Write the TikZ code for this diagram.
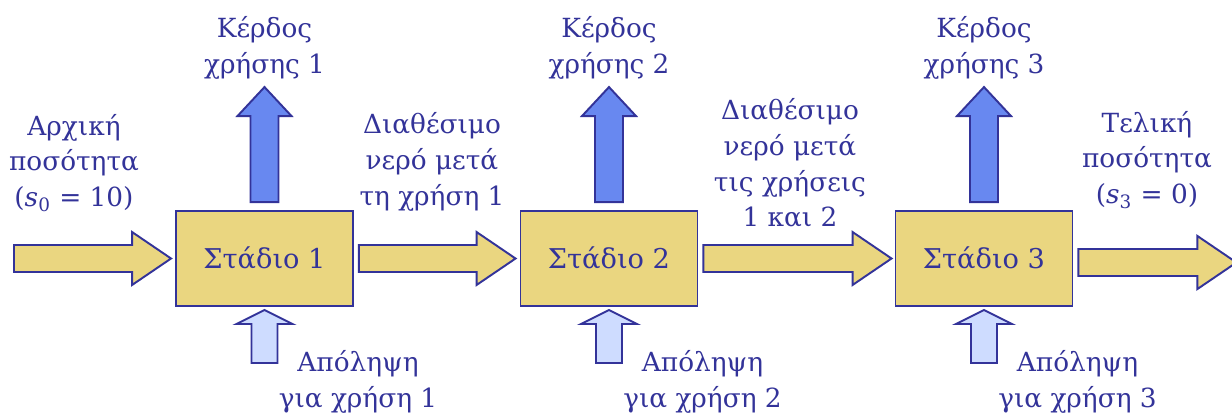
\documentclass[tikz,border=0pt]{standalone}
\usepackage{fontspec}
\setmainfont{DejaVu Serif}
\usetikzlibrary{positioning,calc}

\definecolor{inkblue}{RGB}{51,51,153}
\definecolor{stagefill}{RGB}{234,214,128}
\definecolor{gainfill}{RGB}{104,136,240}
\definecolor{drawfill}{RGB}{206,220,255}

\tikzset{
  stage/.style={draw=inkblue, line width=1.1pt, fill=stagefill, minimum width=3.54cm,
    minimum height=1.9cm, inner sep=0pt, text=inkblue, font=\fontsize{15.5}{20}\selectfont},
  label/.style={align=center, inner sep=0pt, text=inkblue, font=\fontsize{15}{20.4}\selectfont},
  flow/.style={draw=inkblue, line width=1.1pt, fill=stagefill, line join=miter},
  gain/.style={flow, fill=gainfill},
  intake/.style={flow, fill=drawfill}
}

% horizontal block arrow: start, tip
\newcommand{\hflow}[3][flow]{%
  \draw[#1] ($(#2)+(0,-13.5)$) -- ($(#3)+(-39,-13.5)$) -- ($(#3)+(-39,-26.5)$) -- (#3)
    -- ($(#3)+(-39,26.5)$) -- ($(#3)+(-39,13.5)$) -- ($(#2)+(0,13.5)$) -- cycle;}
% upward block arrow: style, base, tip, head length, shaft half, head half
\newcommand{\vflow}[6]{%
  \draw[#1] ($(#2)+(-#5,0)$) -- ($(#3)+(-#5,#4)$) -- ($(#3)+(-#6,#4)$) -- (#3)
    -- ($(#3)+(#6,#4)$) -- ($(#3)+(#5,#4)$) -- ($(#2)+(#5,0)$) -- cycle;}

\begin{document}
\begin{tikzpicture}[x=0.02cm, y=-0.02cm]
  \useasboundingbox (0,0) rectangle (1232,414);

  % stages
  \node[stage] (st1) at (264.5,258.5) {Στάδιο 1};
  \node[stage] (st2) at (609,258.5) {Στάδιο 2};
  \node[stage] (st3) at (984,258.5) {Στάδιο 3};

  % labels
  \node[label] (init) at (74,163) {Αρχική\\ποσότητα\\(\textit{s}\textsubscript{0} = 10)};
  \node[label] (left1) at (432,162) {Διαθέσιμο\\νερό μετά\\τη χρήση 1};
  \node[label] (left2) at (790,163) {Διαθέσιμο\\νερό μετά\\τις χρήσεις\\1 και 2};
  \node[label] (final) at (1147,160) {Τελική\\ποσότητα\\(\textit{s}\textsubscript{3} = 0)};
  \foreach \i in {1,2,3} {
    \node[label] (gain\i) at ($(st\i)+(0,-211)$) {Κέρδος\\χρήσης \i};
    \node[label] (take\i) at ($(st\i)+(93.5,123.5)$) {Απόληψη\\για χρήση \i};
  }

  % water flow
  \coordinate (in) at (14,258.5);
  \coordinate (out) at ($(st3.east)+(5,4)$);
  \hflow{in}{$(st1.west)+(-4,0)$}
  \hflow{$(st1.east)+(5,0)$}{$(st2.west)+(-4,0)$}
  \hflow{$(st2.east)+(5,0)$}{$(st3.west)+(-3,0)$}
  \hflow{out}{$(out)+(158,0)$}

  % gains and intakes
  \foreach \i in {1,2,3} {
    \vflow{gain}{$(st\i.north)+(0,-8)$}{$(st\i.north)+(0,-123)$}{29}{14}{27}
    \vflow{intake}{$(st\i.south)+(0,56)$}{$(st\i.south)+(0,3)$}{14}{13}{28}
  }
\end{tikzpicture}
\end{document}
